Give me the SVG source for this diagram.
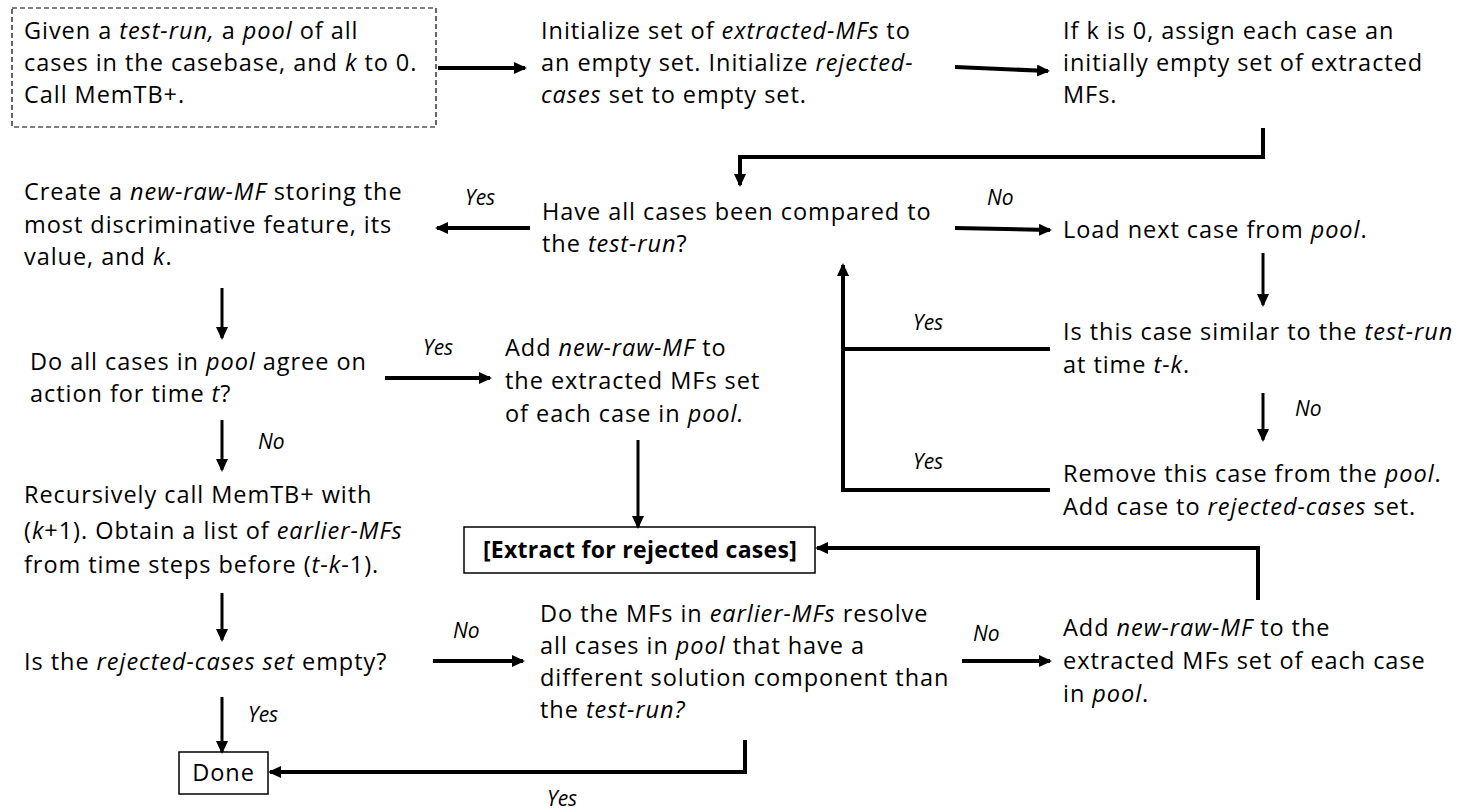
<svg xmlns="http://www.w3.org/2000/svg" width="1458" height="810" viewBox="0 0 1458 810">
  <defs>
    <marker id="head" markerUnits="userSpaceOnUse" markerWidth="14" markerHeight="12" refX="11" refY="6" orient="auto">
      <path d="M0,0 L13,6 L0,12 z" fill="#000"/>
    </marker>
    <style>
      text { font-family: "Open Sans", "Liberation Sans", Arial, sans-serif; font-size: 23.5px; letter-spacing: 0.95px; fill: #000; }
      .i { font-style: italic; }
      .b { font-weight: bold; font-size: 23px; letter-spacing: 0.3px; }
      .lbl { font-style: italic; font-size: 21px; letter-spacing: 0; }
      .c { fill: none; stroke: #000; stroke-width: 4; }
      .t { fill: none; stroke: #000; stroke-width: 3; }
      .box { fill: #fff; stroke: #000; stroke-width: 1.5; }
    </style>
  </defs>
  <rect width="1458" height="810" fill="#fff"/>

  <!-- start -->
  <g id="start">
    <rect x="12" y="8" width="424" height="119" fill="none" stroke="#000" stroke-width="1.2" stroke-dasharray="5,3"/>
    <text x="24" y="39">Given a <tspan class="i">test-run,</tspan> a <tspan class="i">pool</tspan> of all</text>
    <text x="24" y="71">cases in the casebase, and <tspan class="i">k</tspan> to 0.</text>
    <text x="24" y="103">Call MemTB+.</text>
  </g>

  <g id="init">
    <text x="541" y="39">Initialize set of <tspan class="i">extracted-MFs</tspan> to</text>
    <text x="541" y="71">an empty set. Initialize <tspan class="i">rejected-</tspan></text>
    <text x="541" y="103"><tspan class="i">cases</tspan> set to empty set.</text>
  </g>

  <g id="assign">
    <text x="1063" y="39">If k is 0, assign each case an</text>
    <text x="1063" y="71">initially empty set of extracted</text>
    <text x="1063" y="103">MFs.</text>
  </g>

  <g id="compared">
    <text x="542" y="220">Have all cases been compared to</text>
    <text x="542" y="252">the <tspan class="i">test-run</tspan>?</text>
  </g>

  <g id="create">
    <text x="24" y="200">Create a <tspan class="i">new-raw-MF</tspan> storing the</text>
    <text x="24" y="233">most discriminative feature, its</text>
    <text x="24" y="265">value, and <tspan class="i">k</tspan>.</text>
  </g>

  <g id="load">
    <text x="1063" y="238">Load next case from <tspan class="i">pool</tspan>.</text>
  </g>

  <g id="similar">
    <text x="1063" y="340">Is this case similar to the <tspan class="i">test-run</tspan></text>
    <text x="1063" y="373">at time <tspan class="i">t-k</tspan>.</text>
  </g>

  <g id="remove">
    <text x="1063" y="482">Remove this case from the <tspan class="i">pool</tspan>.</text>
    <text x="1063" y="515">Add case to <tspan class="i">rejected-cases</tspan> set.</text>
  </g>

  <g id="agree">
    <text x="30" y="370">Do all cases in <tspan class="i">pool</tspan> agree on</text>
    <text x="30" y="402">action for time <tspan class="i">t</tspan>?</text>
  </g>

  <g id="add-pool">
    <text x="505" y="356">Add <tspan class="i">new-raw-MF</tspan> to</text>
    <text x="505" y="389">the extracted MFs set</text>
    <text x="505" y="422">of each case in <tspan class="i">pool.</tspan></text>
  </g>

  <g id="extract">
    <rect class="box" x="464" y="527" width="351" height="46"/>
    <text class="b" x="640" y="558" text-anchor="middle">[Extract for rejected cases]</text>
  </g>

  <g id="recurse">
    <text x="24" y="503">Recursively call MemTB+ with</text>
    <text x="24" y="539">(<tspan class="i">k</tspan>+1).  Obtain a list of <tspan class="i">earlier-MFs</tspan></text>
    <text x="24" y="573">from time steps before (<tspan class="i">t</tspan>-<tspan class="i">k</tspan>-1).</text>
  </g>

  <g id="empty">
    <text x="24" y="670">Is the <tspan class="i">rejected-cases set</tspan> empty?</text>
  </g>

  <g id="resolve">
    <text x="540" y="622">Do the MFs in <tspan class="i">earlier-MFs</tspan> resolve</text>
    <text x="540" y="654">all cases in <tspan class="i">pool</tspan> that have a</text>
    <text x="540" y="686">different solution component than</text>
    <text x="540" y="718">the <tspan class="i">test-run?</tspan></text>
  </g>

  <g id="add-new">
    <text x="1063" y="636">Add <tspan class="i">new-raw-MF</tspan> to the</text>
    <text x="1063" y="669">extracted MFs set of each case</text>
    <text x="1063" y="702">in <tspan class="i">pool</tspan>.</text>
  </g>

  <g id="done">
    <rect class="box" x="179" y="752" width="89" height="42"/>
    <text x="223.5" y="781" text-anchor="middle">Done</text>
  </g>

  <!-- connectors -->
  <g id="connectors">
    <line class="c" x1="438" y1="68" x2="525" y2="68" marker-end="url(#head)"/>
    <line class="c" x1="955" y1="67" x2="1048" y2="71" marker-end="url(#head)"/>
    <polyline class="c" points="1263,128 1263,157 740,157 740,185" marker-end="url(#head)"/>
    <line class="c" x1="530" y1="228" x2="437" y2="228" marker-end="url(#head)"/>
    <line class="c" x1="955" y1="228" x2="1050" y2="230" marker-end="url(#head)"/>
    <line class="t" x1="1263" y1="253" x2="1263" y2="305" marker-end="url(#head)"/>
    <line class="t" x1="1263" y1="393" x2="1263" y2="440" marker-end="url(#head)"/>
    <line class="c" x1="1050" y1="349" x2="843" y2="349"/>
    <polyline class="c" points="1050,490 843,490 843,265" marker-end="url(#head)"/>
    <line class="t" x1="222" y1="288" x2="222" y2="338" marker-end="url(#head)"/>
    <line class="c" x1="385" y1="378" x2="490" y2="378" marker-end="url(#head)"/>
    <line class="t" x1="638" y1="440" x2="638" y2="527" marker-end="url(#head)"/>
    <line class="t" x1="222" y1="420" x2="222" y2="470" marker-end="url(#head)"/>
    <line class="t" x1="222" y1="593" x2="222" y2="640" marker-end="url(#head)"/>
    <line class="c" x1="433" y1="661" x2="523" y2="661" marker-end="url(#head)"/>
    <line class="t" x1="222" y1="697" x2="222" y2="752" marker-end="url(#head)"/>
    <polyline class="c" points="745,740 745,772 270,772" marker-end="url(#head)"/>
    <line class="c" x1="962" y1="661" x2="1050" y2="661" marker-end="url(#head)"/>
    <polyline class="c" points="1258,600 1258,548 817,548" marker-end="url(#head)"/>

    <text class="lbl" x="465" y="205">Yes</text>
    <text class="lbl" x="987" y="205">No</text>
    <text class="lbl" x="913" y="330">Yes</text>
    <text class="lbl" x="1295" y="416">No</text>
    <text class="lbl" x="913" y="469">Yes</text>
    <text class="lbl" x="423" y="355">Yes</text>
    <text class="lbl" x="258" y="449">No</text>
    <text class="lbl" x="248" y="722">Yes</text>
    <text class="lbl" x="453" y="638">No</text>
    <text class="lbl" x="973" y="641">No</text>
    <text class="lbl" x="547" y="806">Yes</text>
  </g>
</svg>
